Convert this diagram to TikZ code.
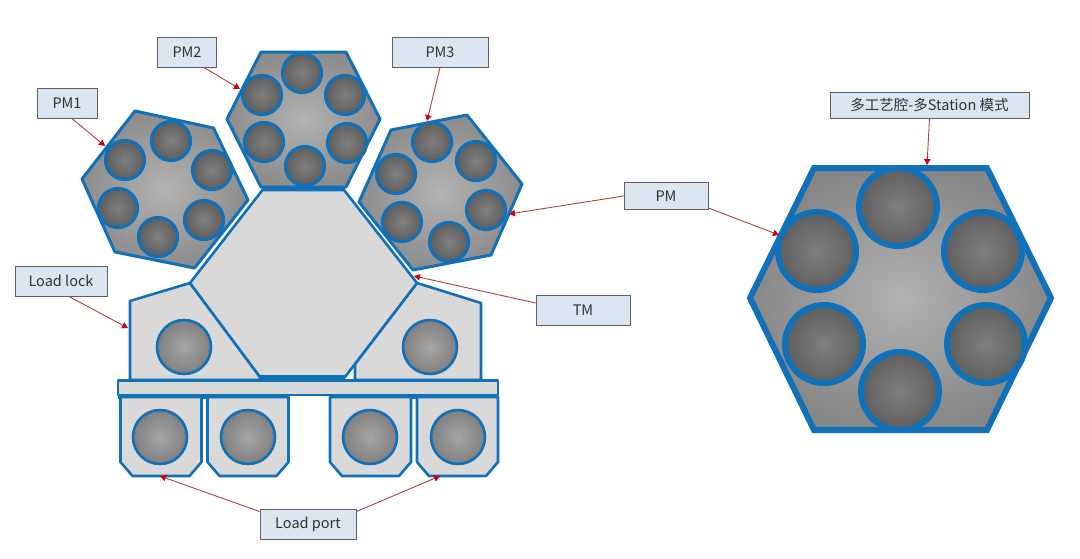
\documentclass[tikz,border=0pt]{standalone}
\usepackage{fontspec}
\setmainfont{Noto Sans CJK SC}
\usetikzlibrary{arrows.meta,calc}
\definecolor{chblue}{HTML}{1070B8}
\definecolor{lblfill}{HTML}{DCE6F2}
\definecolor{lbldraw}{HTML}{606060}
\definecolor{bodygray}{HTML}{D9D9D9}
\definecolor{arrowline}{HTML}{B04040}
\definecolor{arrowtip}{HTML}{D00010}
\tikzset{
  lbl/.style={draw=lbldraw,line width=1pt,fill=lblfill,text=black!80,inner sep=0pt,
    font=\fontsize{14.5}{16}\selectfont},
  callout/.style={draw=arrowline,line width=0.9pt,
    -{Triangle[length=6pt,width=6.5pt,color=arrowtip]}},
  pmhex/.style={draw=chblue,line width=3pt,line join=round,inner color=black!30,outer color=black!45},
  wafer/.style={draw=chblue,line width=3.2pt,inner color=black!50,outer color=black!63},
  bigpmhex/.style={draw=chblue,line width=6pt,line join=miter,inner color=black!30,outer color=black!47},
  bigwafer/.style={draw=chblue,line width=6pt,inner color=black!50,outer color=black!63},
  body/.style={draw=chblue,line width=2.6pt,line join=round,fill=bodygray},
  lockwafer/.style={draw=chblue,line width=2.6pt,inner color=black!35,outer color=black!50},
}
\begin{document}
\begin{tikzpicture}[x=1pt,y=-1pt]
\useasboundingbox (0,0) rectangle (1080,558);
% process modules
\shadedraw[pmhex] (135,111) -- (213.5,128) -- (248,200) -- (194.6,268) -- (115,252) -- (82,179) -- cycle;
\foreach \cx/\cy in {171/141,212/170,204/220,158/237,118/208,125/160}
  \shadedraw[wafer] (\cx,\cy) circle (19.5);
\shadedraw[pmhex] (261,52) -- (346,52) -- (380,119) -- (346,187) -- (261,187) -- (227,119) -- cycle;
\foreach \cx/\cy in {302/73,345/95,347/143,305/166,264/142,262/95}
  \shadedraw[wafer] (\cx,\cy) circle (19.5);
\shadedraw[pmhex] (391,130) -- (467,115) -- (522,184) -- (491,255) -- (413,270) -- (359,202) -- cycle;
\foreach \cx/\cy in {432/142,476/161,486/210,449/242,402/222,396/174}
  \shadedraw[wafer] (\cx,\cy) circle (19.5);
% load locks
\draw[body] (130,301) -- (190,283) -- (260,377) -- (260,380) -- (130,380) -- cycle;
\draw[body] (417,283) -- (481,303) -- (481,380) -- (355,380) -- (355,364) -- cycle;
\shadedraw[lockwafer] (184,347) circle (27);
\shadedraw[lockwafer] (430,347) circle (27);
% transfer module
\draw[body] (262.5,190) -- (344,190) -- (417,283) -- (345,377) -- (260,377) -- (190,283) -- cycle;
\draw[chblue,line width=4.5pt] (262,189) -- (345,189);
\draw[chblue,line width=3.5pt] (260,377) -- (345,377);
% front bar
\draw[body] (118,380.5) rectangle (498,395);
\draw[chblue,line width=3.5pt] (118,397) -- (289,397);
\draw[chblue,line width=3.5pt] (330,397) -- (498,397);
% load ports
\foreach \xa/\cx in {120.5/160,207.5/248,330/370,417/458}{
  \draw[body] (\xa,397) -- ({\xa+81},397) -- ({\xa+81},462) -- ({\xa+69},476) -- ({\xa+12},476) -- (\xa,462) -- cycle;
  \shadedraw[lockwafer] (\cx,437) circle (27);
}
% enlarged module
\shadedraw[bigpmhex] (814,168) -- (987,168) -- (1051,298) -- (987,430) -- (814,430) -- (750,298) -- cycle;
\foreach \cx/\cy in {898/207,983/251,986/344,900/391,824/344,817/251}
  \shadedraw[bigwafer] (\cx,\cy) circle (39);
% labels
\node[lbl,minimum width=60pt,minimum height=30pt] (pmone) at (67,103) {PM1};
\node[lbl,minimum width=59pt,minimum height=30pt] (pmtwo) at (187,52) {PM2};
\node[lbl,minimum width=96pt,minimum height=30pt] (pmthree) at (440,52) {PM3};
\node[lbl,minimum width=92pt,minimum height=30pt] (lock) at (61,281) {Load lock};
\node[lbl,minimum width=94pt,minimum height=30pt] (tm) at (583,310) {TM};
\node[lbl,minimum width=84pt,minimum height=27pt] (pm) at (666,196) {PM};
\node[lbl,minimum width=96pt,minimum height=30pt] (port) at (308,524) {Load port};
\node[lbl,minimum width=199pt,minimum height=26pt] (multi) at (929.5,105) {多工艺腔-多Station 模式};
% targets
\coordinate (tpmone) at (105,146);
\coordinate (tpmtwo) at (240,89);
\coordinate (tpmthree) at (427,121);
\coordinate (tlock) at (128,328);
\coordinate (ttm) at (414,276);
\coordinate (tpmright) at (509,214);
\coordinate (tbig) at (779,235);
\coordinate (tmulti) at (927,165);
\coordinate (tportl) at (160,476);
\coordinate (tportr) at (440,476);
% callouts
\draw[callout] ([xshift=5pt]pmone.south) -- (tpmone);
\draw[callout] ([xshift=17pt]pmtwo.south) -- (tpmtwo);
\draw[callout] (pmthree.south) -- (tpmthree);
\draw[callout] ([xshift=8pt]lock.south) -- (tlock);
\draw[callout] ([yshift=7pt]tm.west) -- (ttm);
\draw[callout] (pm.west) -- (tpmright);
\draw[callout] ([yshift=2pt]pm.south east) -- (tbig);
\draw[callout] (multi.south) -- (tmulti);
\draw[callout] ([yshift=-3pt]port.north west) -- (tportl);
\draw[callout] ([yshift=-3pt]port.north east) -- (tportr);
\end{tikzpicture}
\end{document}
